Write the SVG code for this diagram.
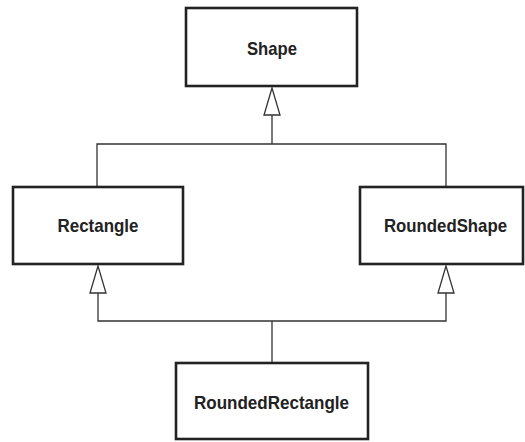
<svg xmlns="http://www.w3.org/2000/svg" width="525" height="442" viewBox="0 0 525 442">
<style>
.box{fill:#fff;stroke:#222;stroke-width:2.6}
.lbl{font-family:"Liberation Sans",Arial,sans-serif;font-weight:bold;font-size:19px;fill:#222;text-anchor:middle}
.ln{fill:none;stroke:#333;stroke-width:1.3}
.ah{fill:#fff;stroke:#333;stroke-width:1.3}
</style>
<rect width="525" height="442" fill="#fff"/>
<g id="connectors">
<path class="ln" d="M272 115V144M97 186V144H446V186"/>
<path class="ln" d="M98 293V321H446V293M272 321V362"/>
<polygon class="ah" points="272,88 264,115 280,115"/>
<polygon class="ah" points="98,266 90,293 106,293"/>
<polygon class="ah" points="446,266 438,293 454,293"/>
</g>
<g id="shape">
<rect class="box" x="186" y="8" width="171" height="78"/>
<text class="lbl" x="272" y="54.5" textLength="50" lengthAdjust="spacingAndGlyphs">Shape</text>
</g>
<g id="rectangle">
<rect class="box" x="13" y="187" width="170" height="77"/>
<text class="lbl" x="98" y="232" textLength="81" lengthAdjust="spacingAndGlyphs">Rectangle</text>
</g>
<g id="roundedshape">
<rect class="box" x="360" y="187" width="163" height="77"/>
<text class="lbl" x="445.5" y="232" textLength="123" lengthAdjust="spacingAndGlyphs">RoundedShape</text>
</g>
<g id="roundedrectangle">
<rect class="box" x="176" y="363" width="192" height="76"/>
<text class="lbl" x="271.5" y="408.5" textLength="155" lengthAdjust="spacingAndGlyphs">RoundedRectangle</text>
</g>
</svg>
